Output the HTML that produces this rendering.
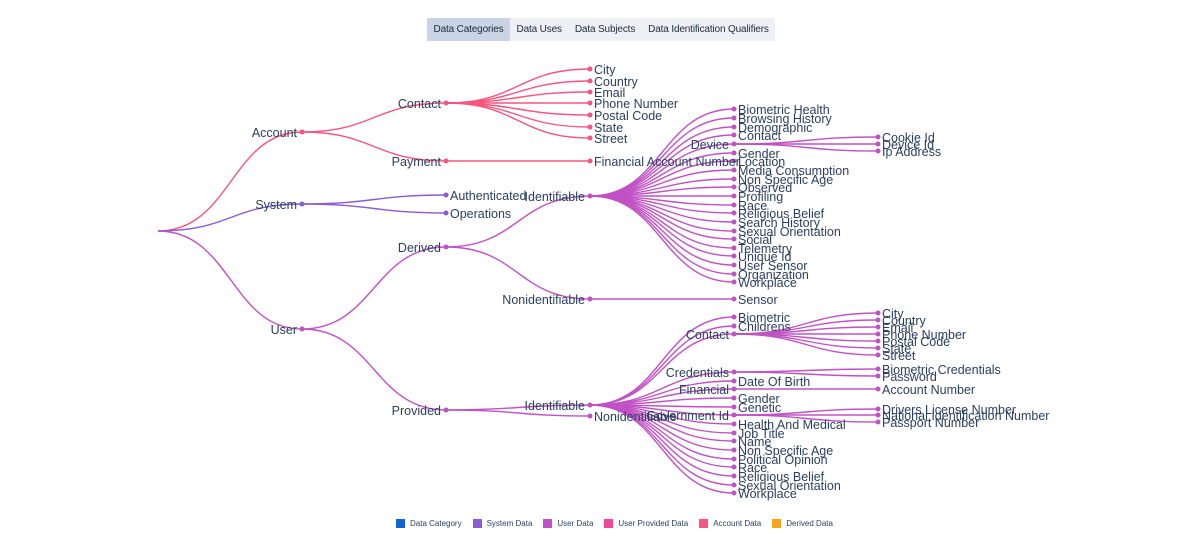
<!DOCTYPE html>
<html><head><meta charset="utf-8"><style>
html,body{margin:0;padding:0;background:#fff;width:1200px;height:540px;overflow:hidden;font-family:"Liberation Sans",sans-serif}
.tabs{position:absolute;left:427px;top:18px;height:23px;background:#eef0f5;display:flex;font-size:10px;letter-spacing:-0.15px;color:#1f2a3a}
.tabs div{padding:0 6.5px;line-height:23px}
.tabs .a{background:#c9d4e4}
svg{position:absolute;left:0;top:0}
text{font-family:"Liberation Sans",sans-serif;font-size:12.5px;fill:#2a3f5f}
.e text,.l{text-anchor:end}
path{fill:none;stroke-width:1.4}
.legend{position:absolute;top:519px;left:396px;display:flex;font-size:8px;color:#2a3f5f}
.legend span{display:flex;align-items:center;margin-right:11px}
.legend i{display:inline-block;width:9px;height:9px;margin-right:5px}
</style></head><body>
<div class="tabs"><div class="a">Data Categories</div><div>Data Uses</div><div>Data Subjects</div><div>Data Identification Qualifiers</div></div>
<svg width="1200" height="540" viewBox="0 0 1200 540">
<path stroke="#f9537f" d="M158 231C231 231 231 132 302 132"/>
<path stroke="#8a5bd3" d="M158 231C231 231 231 204 302 204"/>
<path stroke="#c052c4" d="M158 231C231 231 231 329 302 329"/>
<g stroke="#f9537f">
<path d="M302 132C374 132 374 103 446 103"/><path d="M302 132C374 132 374 161 446 161"/>
<path d="M446 103C518 103 518 69 590 69"/><path d="M446 103C518 103 518 81 590 81"/><path d="M446 103C518 103 518 92 590 92"/><path d="M446 103L590 103"/><path d="M446 103C518 103 518 115 590 115"/><path d="M446 103C518 103 518 127 590 127"/><path d="M446 103C518 103 518 138 590 138"/>
<path d="M446 161L590 161"/>
</g>
<g stroke="#8a5bd3"><path d="M302 204C374 204 374 195 446 195"/><path d="M302 204C374 204 374 213 446 213"/></g>
<g stroke="#c052c4">
<path d="M302 329C374 329 374 247 446 247"/><path d="M302 329C374 329 374 410 446 410"/>
<path d="M446 247C518 247 518 196 590 196"/><path d="M446 247C518 247 518 299 590 299"/>
<path d="M590 299L734 299"/>
<path d="M446 410C518 410 518 405 590 405"/><path d="M446 410C518 410 518 416 590 416"/>
<path d="M590 196C662 196 662 109 734 109"/><path d="M590 196C662 196 662 118 734 118"/><path d="M590 196C662 196 662 127 734 127"/><path d="M590 196C662 196 662 135 734 135"/><path d="M590 196C662 196 662 144 734 144"/><path d="M590 196C662 196 662 153 734 153"/><path d="M590 196C662 196 662 161 734 161"/><path d="M590 196C662 196 662 170 734 170"/><path d="M590 196C662 196 662 179 734 179"/><path d="M590 196C662 196 662 187 734 187"/><path d="M590 196L734 196"/><path d="M590 196C662 196 662 205 734 205"/><path d="M590 196C662 196 662 213 734 213"/><path d="M590 196C662 196 662 222 734 222"/><path d="M590 196C662 196 662 231 734 231"/><path d="M590 196C662 196 662 239 734 239"/><path d="M590 196C662 196 662 248 734 248"/><path d="M590 196C662 196 662 256 734 256"/><path d="M590 196C662 196 662 265 734 265"/><path d="M590 196C662 196 662 274 734 274"/><path d="M590 196C662 196 662 282 734 282"/>
<path d="M734 144C806 144 806 137 878 137"/><path d="M734 144L878 144"/><path d="M734 144C806 144 806 151 878 151"/>
<path d="M590 405C662 405 662 317 734 317"/><path d="M590 405C662 405 662 326 734 326"/><path d="M590 405C662 405 662 334 734 334"/><path d="M590 405C662 405 662 372 734 372"/><path d="M590 405C662 405 662 381 734 381"/><path d="M590 405C662 405 662 389 734 389"/><path d="M590 405C662 405 662 398 734 398"/><path d="M590 405C662 405 662 407 734 407"/><path d="M590 405C662 405 662 415 734 415"/><path d="M590 405C662 405 662 424 734 424"/><path d="M590 405C662 405 662 433 734 433"/><path d="M590 405C662 405 662 441 734 441"/><path d="M590 405C662 405 662 450 734 450"/><path d="M590 405C662 405 662 459 734 459"/><path d="M590 405C662 405 662 467 734 467"/><path d="M590 405C662 405 662 476 734 476"/><path d="M590 405C662 405 662 485 734 485"/><path d="M590 405C662 405 662 493 734 493"/>
<path d="M734 334C806 334 806 313 878 313"/><path d="M734 334C806 334 806 320 878 320"/><path d="M734 334C806 334 806 327 878 327"/><path d="M734 334L878 334"/><path d="M734 334C806 334 806 341 878 341"/><path d="M734 334C806 334 806 348 878 348"/><path d="M734 334C806 334 806 355 878 355"/>
<path d="M734 372C806 372 806 369 878 369"/><path d="M734 372C806 372 806 376 878 376"/>
<path d="M734 389L878 389"/>
<path d="M734 415C806 415 806 409 878 409"/><path d="M734 415L878 415"/><path d="M734 415C806 415 806 422 878 422"/>
</g>
<g fill="#f9537f"><circle cx="302" cy="132" r="2.5"/><circle cx="446" cy="103" r="2.5"/><circle cx="446" cy="161" r="2.5"/>
<circle cx="590" cy="69" r="2.5"/><circle cx="590" cy="81" r="2.5"/><circle cx="590" cy="92" r="2.5"/><circle cx="590" cy="103" r="2.5"/><circle cx="590" cy="115" r="2.5"/><circle cx="590" cy="127" r="2.5"/><circle cx="590" cy="138" r="2.5"/><circle cx="590" cy="161" r="2.5"/></g>
<g fill="#8a5bd3"><circle cx="302" cy="204" r="2.5"/><circle cx="446" cy="195" r="2.5"/><circle cx="446" cy="213" r="2.5"/></g>
<g fill="#c052c4"><circle cx="302" cy="329" r="2.5"/><circle cx="446" cy="247" r="2.5"/><circle cx="446" cy="410" r="2.5"/><circle cx="590" cy="196" r="2.5"/><circle cx="590" cy="299" r="2.5"/><circle cx="734" cy="299" r="2.5"/><circle cx="590" cy="405" r="2.5"/><circle cx="590" cy="416" r="2.5"/>
<circle cx="734" cy="109" r="2.5"/><circle cx="734" cy="118" r="2.5"/><circle cx="734" cy="127" r="2.5"/><circle cx="734" cy="135" r="2.5"/><circle cx="734" cy="144" r="2.5"/><circle cx="734" cy="153" r="2.5"/><circle cx="734" cy="161" r="2.5"/><circle cx="734" cy="170" r="2.5"/><circle cx="734" cy="179" r="2.5"/><circle cx="734" cy="187" r="2.5"/><circle cx="734" cy="196" r="2.5"/><circle cx="734" cy="205" r="2.5"/><circle cx="734" cy="213" r="2.5"/><circle cx="734" cy="222" r="2.5"/><circle cx="734" cy="231" r="2.5"/><circle cx="734" cy="239" r="2.5"/><circle cx="734" cy="248" r="2.5"/><circle cx="734" cy="256" r="2.5"/><circle cx="734" cy="265" r="2.5"/><circle cx="734" cy="274" r="2.5"/><circle cx="734" cy="282" r="2.5"/>
<circle cx="878" cy="137" r="2.5"/><circle cx="878" cy="144" r="2.5"/><circle cx="878" cy="151" r="2.5"/>
<circle cx="734" cy="317" r="2.5"/><circle cx="734" cy="326" r="2.5"/><circle cx="734" cy="334" r="2.5"/><circle cx="734" cy="372" r="2.5"/><circle cx="734" cy="381" r="2.5"/><circle cx="734" cy="389" r="2.5"/><circle cx="734" cy="398" r="2.5"/><circle cx="734" cy="407" r="2.5"/><circle cx="734" cy="415" r="2.5"/><circle cx="734" cy="424" r="2.5"/><circle cx="734" cy="433" r="2.5"/><circle cx="734" cy="441" r="2.5"/><circle cx="734" cy="450" r="2.5"/><circle cx="734" cy="459" r="2.5"/><circle cx="734" cy="467" r="2.5"/><circle cx="734" cy="476" r="2.5"/><circle cx="734" cy="485" r="2.5"/><circle cx="734" cy="493" r="2.5"/>
<circle cx="878" cy="313" r="2.5"/><circle cx="878" cy="320" r="2.5"/><circle cx="878" cy="327" r="2.5"/><circle cx="878" cy="334" r="2.5"/><circle cx="878" cy="341" r="2.5"/><circle cx="878" cy="348" r="2.5"/><circle cx="878" cy="355" r="2.5"/><circle cx="878" cy="369" r="2.5"/><circle cx="878" cy="376" r="2.5"/><circle cx="878" cy="389" r="2.5"/><circle cx="878" cy="409" r="2.5"/><circle cx="878" cy="415" r="2.5"/><circle cx="878" cy="422" r="2.5"/></g>
<g class="e">
<text x="297" y="137">Account</text><text x="297" y="209">System</text><text x="297" y="334">User</text>
<text x="441" y="108">Contact</text><text x="441" y="166">Payment</text><text x="441" y="252">Derived</text><text x="441" y="415">Provided</text>
<text x="585" y="201">Identifiable</text><text x="585" y="304">Nonidentifiable</text><text x="585" y="410">Identifiable</text>
<text x="729" y="149">Device</text><text x="729" y="339">Contact</text><text x="729" y="377">Credentials</text><text x="729" y="394">Financial</text><text x="729" y="420">Government Id</text>
</g>
<g>
<text x="594" y="74">City</text><text x="594" y="86">Country</text><text x="594" y="97">Email</text><text x="594" y="108">Phone Number</text><text x="594" y="120">Postal Code</text><text x="594" y="132">State</text><text x="594" y="143">Street</text><text x="594" y="166">Financial Account Number</text>
<text x="450" y="200">Authenticated</text><text x="450" y="218">Operations</text>
<text x="594" y="421">Nonidentifiable</text>
<text x="738" y="304">Sensor</text>
<text x="738" y="114">Biometric Health</text><text x="738" y="123">Browsing History</text><text x="738" y="132">Demographic</text><text x="738" y="140">Contact</text><text x="738" y="158">Gender</text><text x="738" y="166">Location</text><text x="738" y="175">Media Consumption</text><text x="738" y="184">Non Specific Age</text><text x="738" y="192">Observed</text><text x="738" y="201">Profiling</text><text x="738" y="210">Race</text><text x="738" y="218">Religious Belief</text><text x="738" y="227">Search History</text><text x="738" y="236">Sexual Orientation</text><text x="738" y="244">Social</text><text x="738" y="253">Telemetry</text><text x="738" y="261">Unique Id</text><text x="738" y="270">User Sensor</text><text x="738" y="279">Organization</text><text x="738" y="287">Workplace</text>
<text x="882" y="142">Cookie Id</text><text x="882" y="149">Device Id</text><text x="882" y="156">Ip Address</text>
<text x="738" y="322">Biometric</text><text x="738" y="331">Childrens</text><text x="738" y="386">Date Of Birth</text><text x="738" y="403">Gender</text><text x="738" y="412">Genetic</text><text x="738" y="429">Health And Medical</text><text x="738" y="438">Job Title</text><text x="738" y="446">Name</text><text x="738" y="455">Non Specific Age</text><text x="738" y="464">Political Opinion</text><text x="738" y="472">Race</text><text x="738" y="481">Religious Belief</text><text x="738" y="490">Sexual Orientation</text><text x="738" y="498">Workplace</text>
<text x="882" y="318">City</text><text x="882" y="325">Country</text><text x="882" y="332">Email</text><text x="882" y="339">Phone Number</text><text x="882" y="346">Postal Code</text><text x="882" y="353">State</text><text x="882" y="360">Street</text>
<text x="882" y="374">Biometric Credentials</text><text x="882" y="381">Password</text><text x="882" y="394">Account Number</text>
<text x="882" y="414">Drivers License Number</text><text x="882" y="420">National Identification Number</text><text x="882" y="427">Passport Number</text>
</g>
</svg>
<div class="legend">
<span><i style="background:#1463d6"></i>Data Category</span>
<span><i style="background:#8a5bd3"></i>System Data</span>
<span><i style="background:#c052c4"></i>User Data</span>
<span><i style="background:#f0489a"></i>User Provided Data</span>
<span><i style="background:#f9537f"></i>Account Data</span>
<span><i style="background:#f9a21b"></i>Derived Data</span>
</div>
</body></html>
